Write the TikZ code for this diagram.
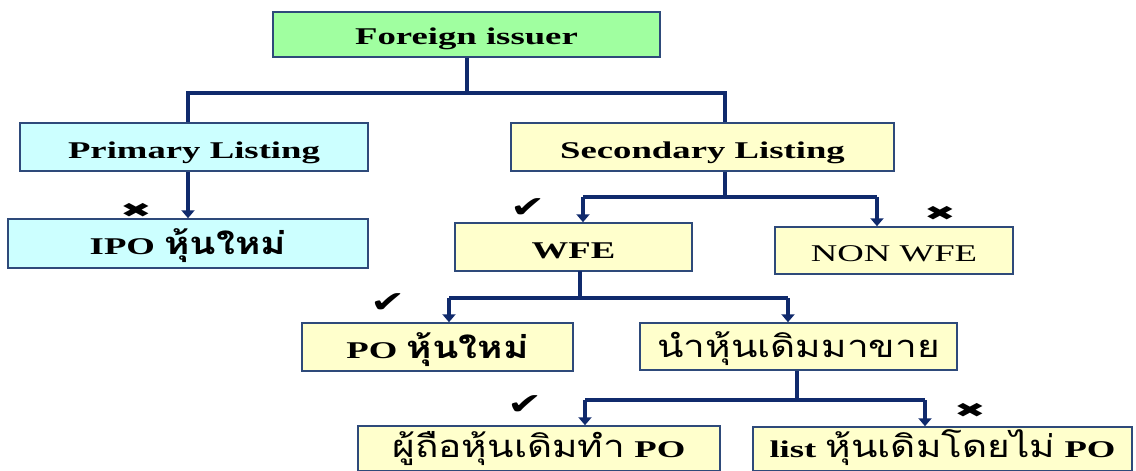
\documentclass[tikz,border=0pt]{standalone}
\usepackage{fontspec}
\usetikzlibrary{arrows.meta}
\setmainfont{Liberation Serif}
\newfontfamily\lat[FakeStretch=1.53]{Liberation Serif}
\newfontfamily\thai[Script=Thai,FakeStretch=1.25]{Loma}
\newfontfamily\sym{DejaVu Sans}
\newcommand{\thtxt}[1]{{\thai\fontsize{31}{32}\selectfont #1}}
\definecolor{gfill}{HTML}{A0FFA0}
\definecolor{cfill}{HTML}{CCFFFF}
\definecolor{yfill}{HTML}{FFFFCC}
\definecolor{bord}{HTML}{2E4A7A}
\definecolor{navy}{HTML}{102A6C}
\tikzset{
  box/.style={draw=bord,line width=1.5pt,inner sep=0pt,text height=24pt,text depth=2pt,font=\fontsize{24}{26}\selectfont\bfseries\lat},
  conn/.style={draw=navy,line width=4pt},
  arr/.style={draw=navy,line width=4pt,-{Triangle[width=13pt,length=8pt]}},
  tick/.style={font=\sym\fontsize{30}{30}\selectfont,xscale=1.4,inner sep=0pt},
  cross/.style={font=\sym\fontsize{28}{28}\selectfont,xscale=1.35,yscale=0.72,inner sep=0pt}
}
\begin{document}
\begin{tikzpicture}[x=1pt,y=-1pt]
\useasboundingbox (0,0) rectangle (1136,471);
\node[box,fill=gfill,minimum width=387pt,minimum height=45pt,text height=21pt] (fi) at (466.5,34.5) {Foreign issuer};
\node[box,fill=cfill,minimum width=348pt,minimum height=48pt] (pl) at (194,147) {Primary Listing};
\node[box,fill=cfill,minimum width=360pt,minimum height=49pt] (ipo) at (188,243.5) {IPO \thtxt{\bfseries หุ้นใหม่}};
\node[box,fill=yfill,minimum width=383pt,minimum height=48pt] (sl) at (702.5,147) {Secondary Listing};
\node[box,fill=yfill,minimum width=237pt,minimum height=48pt] (wfe) at (573.5,247) {WFE};
\node[box,fill=yfill,minimum width=238pt,minimum height=47pt] (nwfe) at (894,250.5) {\mdseries NON WFE};
\node[box,fill=yfill,minimum width=271pt,minimum height=48pt] (po) at (437.5,347) {PO \thtxt{\bfseries หุ้นใหม่}};
\node[box,fill=yfill,minimum width=317pt,minimum height=47pt] (nam) at (798.5,346.5) {\thtxt{\mdseries นำหุ้นเดิมมาขาย}};
\node[box,fill=yfill,minimum width=362pt,minimum height=45pt,text height=19pt] (hold) at (539,448.5) {\thtxt{\mdseries ผู้ถือหุ้นเดิมทำ} PO};
\node[box,fill=yfill,minimum width=379pt,minimum height=44pt,text height=19pt] (lst) at (942.5,449) {list \thtxt{\mdseries หุ้นเดิมโดยไม่} PO};

% junction coordinates
\coordinate (b1L) at (188,93);
\coordinate (b1R) at (725,93);
\coordinate (b2L) at (583,197);
\coordinate (b2R) at (877,197);
\coordinate (b3L) at (449,298);
\coordinate (b3R) at (788,298);
\coordinate (b4L) at (585,400);
\coordinate (b4R) at (925,400);

\draw[conn] (fi.south) -- (fi.south |- b1L);
\draw[conn] (b1L |- pl.north) -- (b1L) -- (b1R) -- (b1R |- sl.north);
\draw[arr] (b1L |- pl.south) -- (b1L |- ipo.north);

\draw[conn] (b1R |- sl.south) -- (b1R |- b2L);
\draw[conn] (b2L) -- (b2R);
\draw[arr] (b2L) -- (b2L |- wfe.north);
\draw[arr] (b2R) -- (b2R |- nwfe.north);

\draw[conn] (580,271) coordinate (w1) -- (w1 |- b3L);
\draw[conn] (b3L) -- (b3R);
\draw[arr] (b3L) -- (b3L |- po.north);
\draw[arr] (b3R) -- (b3R |- nam.north);

\draw[conn] (nam.south -| 797,0) -- (797,400);
\draw[conn] (b4L) -- (b4R);
\draw[arr] (b4L) -- (b4L |- hold.north);
\draw[arr] (b4R) -- (b4R |- lst.north);

% marks
\node[cross] (x1) at (136,210) {✖};
\node[tick] (c1) at (528,208) {✔};
\node[cross] (x2) at (940,213) {✖};
\node[tick] (c2) at (388,303) {✔};
\node[tick] (c3) at (525,405) {✔};
\node[cross] (x3) at (970,410) {✖};
\end{tikzpicture}
\end{document}
